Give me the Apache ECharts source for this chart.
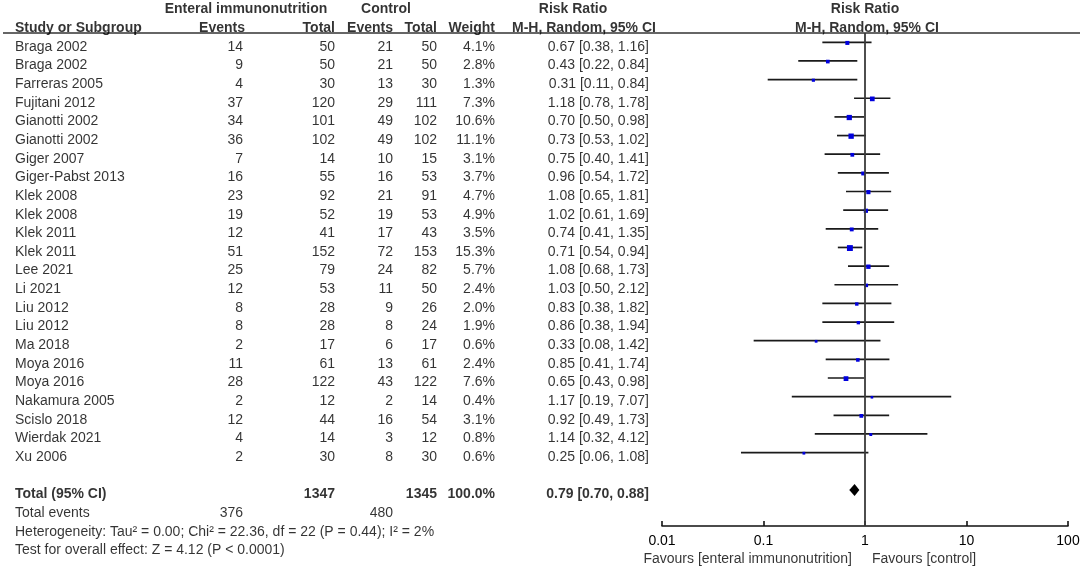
<!DOCTYPE html>
<html>
<head>
<meta charset="utf-8">
<script src="https://cdn.jsdelivr.net/npm/echarts@6/dist/echarts.min.js"></script>
<style>html,body{margin:0;padding:0;background:#fff}#c{width:1084px;height:568px}</style>
</head>
<body>
<div id="c"></div>
<script>
const studies = ['Braga 2002','Braga 2002','Farreras 2005','Fujitani 2012','Gianotti 2002','Gianotti 2002','Giger 2007','Giger-Pabst 2013','Klek 2008','Klek 2008','Klek 2011','Klek 2011','Lee 2021','Li 2021','Liu 2012','Liu 2012','Ma 2018','Moya 2016','Moya 2016','Nakamura 2005','Scislo 2018','Wierdak 2021','Xu 2006'];
const expEvents = [14,9,4,37,34,36,7,16,23,19,12,51,25,12,8,8,2,11,28,2,12,4,2];
const expTotal = [50,50,30,120,101,102,14,55,92,52,41,152,79,53,28,28,17,61,122,12,44,14,30];
const ctrlEvents = [21,21,13,29,49,49,10,16,21,19,17,72,24,11,9,8,6,13,43,2,16,3,8];
const ctrlTotal = [50,50,30,111,102,102,15,53,91,53,43,153,82,50,26,24,17,61,122,14,54,12,30];
const weights = [4.1,2.8,1.3,7.3,10.6,11.1,3.1,3.7,4.7,4.9,3.5,15.3,5.7,2.4,2.0,1.9,0.6,2.4,7.6,0.4,3.1,0.8,0.6];
const rr = [0.67,0.43,0.31,1.18,0.70,0.73,0.75,0.96,1.08,1.02,0.74,0.71,1.08,1.03,0.83,0.86,0.33,0.85,0.65,1.17,0.92,1.14,0.25];
const lo = [0.38,0.22,0.11,0.78,0.50,0.53,0.40,0.54,0.65,0.61,0.41,0.54,0.68,0.50,0.38,0.38,0.08,0.41,0.43,0.19,0.49,0.32,0.06];
const hi = [1.16,0.84,0.84,1.78,0.98,1.02,1.41,1.72,1.81,1.69,1.35,0.94,1.73,2.12,1.82,1.94,1.42,1.74,0.98,7.07,1.73,4.12,1.08];
const totalExp = 1347, totalCtrl = 1345, totalWeight = '100.0%';
const pooled = {rr:0.79, lo:0.70, hi:0.88};
const totalEventsExp = 376, totalEventsCtrl = 480;
const heterogeneity = 'Heterogeneity: Tau² = 0.00; Chi² = 22.36, df = 22 (P = 0.44); I² = 2%';
const overallEffect = 'Test for overall effect: Z = 4.12 (P < 0.0001)';
const favoursLeft = 'Favours [enteral immunonutrition]';
const favoursRight = 'Favours [control]';

const FONT = 'Liberation Sans, Arial, sans-serif';
const FS = 14;
const f2 = v => v.toFixed(2);
const ciText = (r,l,h) => f2(r) + ' [' + f2(l) + ', ' + f2(h) + ']';

// columns (layout)
const C = {name:15, expEv:243, expTot:335, ctrlEv:393, ctrlTot:437, weight:495, rr:649};
const cells = [];
function cell(x, row, text, align, bold){
  const pos = align === 'left' ? 'right' : (align === 'right' ? 'left' : 'inside');
  cells.push({value:[x,row], label:{show:true, formatter:String(text).replace(/\{/g,''), position:pos, distance:0,
    color:'#000', fontSize:FS, fontFamily:FONT, fontWeight: bold ? 'bold' : 'normal'}});
}
// headers
cell(246, -2, 'Enteral immunonutrition', 'center', true);
cell(386, -2, 'Control', 'center', true);
cell(573, -2, 'Risk Ratio', 'center', true);
cell(865, -2, 'Risk Ratio', 'center', true);
cell(C.name, -1, 'Study or Subgroup', 'left', true);
cell(245, -1, 'Events', 'right', true);
cell(C.expTot, -1, 'Total', 'right', true);
cell(C.ctrlEv, -1, 'Events', 'right', true);
cell(C.ctrlTot, -1, 'Total', 'right', true);
cell(C.weight, -1, 'Weight', 'right', true);
cell(584, -1, 'M-H, Random, 95% CI', 'center', true);
cell(867, -1, 'M-H, Random, 95% CI', 'center', true);
studies.forEach((s,i) => {
  cell(C.name, i, s, 'left');
  cell(C.expEv, i, expEvents[i], 'right');
  cell(C.expTot, i, expTotal[i], 'right');
  cell(C.ctrlEv, i, ctrlEvents[i], 'right');
  cell(C.ctrlTot, i, ctrlTotal[i], 'right');
  cell(C.weight, i, weights[i].toFixed(1) + '%', 'right');
  cell(C.rr, i, ciText(rr[i], lo[i], hi[i]), 'right');
});
const n = studies.length;
const totalRow = n + 1;
cell(C.name, totalRow, 'Total (95% CI)', 'left', true);
cell(C.expTot, totalRow, totalExp, 'right', true);
cell(C.ctrlTot, totalRow, totalCtrl, 'right', true);
cell(C.weight, totalRow, totalWeight, 'right', true);
cell(C.rr, totalRow, ciText(pooled.rr, pooled.lo, pooled.hi), 'right', true);
cell(C.name, totalRow+1, 'Total events', 'left');
cell(C.expEv, totalRow+1, totalEventsExp, 'right');
cell(C.ctrlEv, totalRow+1, totalEventsCtrl, 'right');
cell(C.name, totalRow+2, heterogeneity, 'left');
cell(C.name, totalRow+3, overallEffect, 'left');
cell(852, 27.45, favoursLeft, 'right');
cell(872, 27.45, favoursRight, 'left');

const ROW = 18.65;
const TXT0 = 46.8;
const studyData = studies.map((s,i) => [i, lo[i], hi[i], rr[i], weights[i]]);

const chart = echarts.init(document.getElementById('c'));
chart.setOption({
  animation:false,
  backgroundColor:'#fff',
  grid:[
    {left:662, width:406, top:33, height:493},
    {left:0, right:0, top:0, bottom:0}
  ],
  xAxis:[
    {type:'log', logBase:10, min:0.01, max:100, gridIndex:0,
     axisLine:{show:true, onZero:false, lineStyle:{color:'#111', width:1.6}},
     axisTick:{show:true, inside:true, length:5, lineStyle:{color:'#111', width:1.6}},
     minorTick:{show:false}, splitLine:{show:false},
     axisLabel:{color:'#000', fontSize:FS, fontFamily:FONT, margin:8}},
    {type:'value', min:0, max:1084, gridIndex:1, show:false}
  ],
  yAxis:[
    {type:'value', min:-0.5, max:(526-42.3)/ROW, inverse:true, gridIndex:0, show:false},
    {type:'value', min:-TXT0/ROW, max:(568-TXT0)/ROW, inverse:true, gridIndex:1, show:false}
  ],
  series:[
    {type:'custom', xAxisIndex:0, yAxisIndex:0, encode:{x:[1,2,3], y:0}, data:studyData,
     renderItem:function(params, api){
       const row = api.value(0);
       const p1 = api.coord([api.value(1), row]);
       const p2 = api.coord([api.value(2), row]);
       const pc = api.coord([api.value(3), row]);
       const s = 2 + Math.sqrt(api.value(4));
       return {type:'group', children:[
         {type:'line', shape:{x1:p1[0], y1:p1[1], x2:p2[0], y2:p2[1]}, style:{stroke:'#1a1a1a', lineWidth:1.7}},
         {type:'rect', shape:{x:pc[0]-s/2, y:pc[1]-s/2+0.6, width:s, height:s}, style:{fill:'#0000dd'}}
       ]};
     },
     markLine:{silent:true, symbol:'none', label:{show:false},
       lineStyle:{color:'#3a3a3a', width:1.8, type:'solid'}, data:[{xAxis:1}]}
    },
    {type:'custom', xAxisIndex:0, yAxisIndex:0, encode:{x:[1,2,3], y:0},
     data:[[n+1, pooled.lo, pooled.hi, pooled.rr]],
     renderItem:function(params, api){
       const row = api.value(0);
       const a = api.coord([api.value(1), row]);
       const b = api.coord([api.value(2), row]);
       const c = api.coord([api.value(3), row]);
       return {type:'polygon', shape:{points:[[a[0],a[1]],[c[0],c[1]-6],[b[0],b[1]],[c[0],c[1]+6]]}, style:{fill:'#000'}};
     }
    },
    {type:'scatter', xAxisIndex:1, yAxisIndex:1, symbolSize:0, silent:true, data:cells, z:5},
    {type:'lines', coordinateSystem:'cartesian2d', xAxisIndex:1, yAxisIndex:1, silent:true,
     lineStyle:{color:'#333', width:1.6, opacity:1},
     data:[{coords:[[3,(32.3-TXT0)/ROW],[1080,(32.3-TXT0)/ROW]]}]}
  ]
});
</script>
</body>
</html>
